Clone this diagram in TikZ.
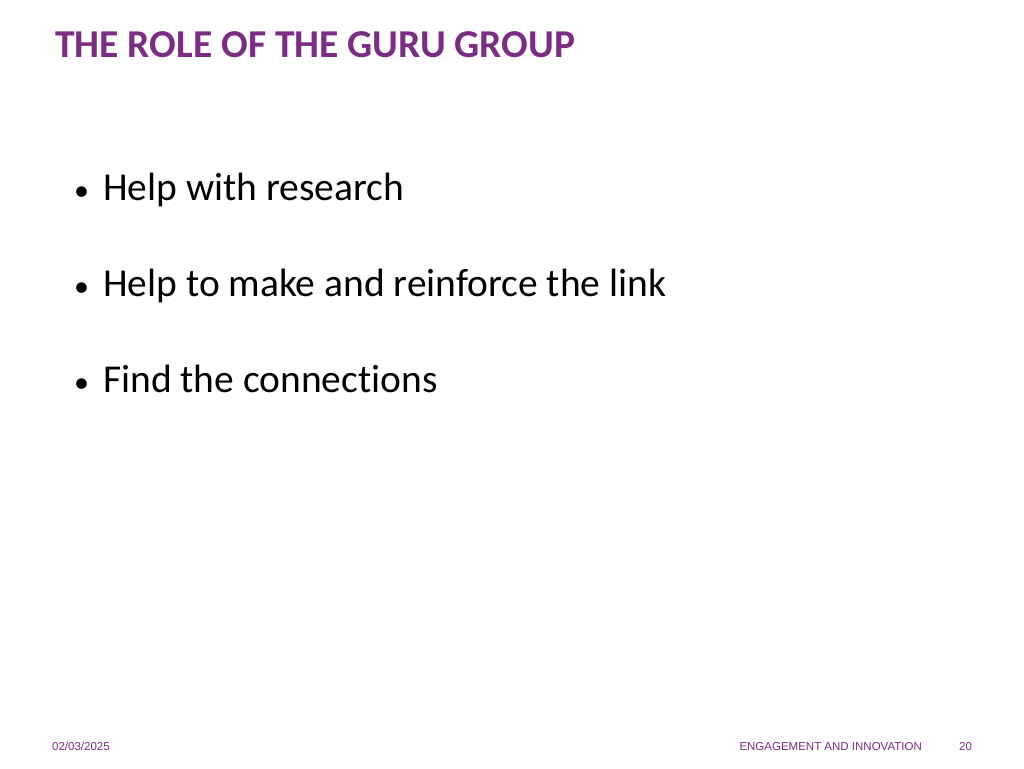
\documentclass[tikz,border=0pt]{standalone}
\usepackage{fontspec}
\setmainfont{Carlito}[Ligatures=NoCommon]
\newfontfamily\footfont{Liberation Sans}
\definecolor{guru}{HTML}{7B2C83}
\begin{document}
\begin{tikzpicture}[x=1pt,y=-1pt,
    titletext/.style={anchor=base west,inner sep=0pt,text=guru,font=\fontsize{39.5}{44}\selectfont\bfseries},
    bullettext/.style={anchor=base west,inner sep=0pt,font=\fontsize{39.5}{44}\selectfont},
    foottext/.style={anchor=base west,inner sep=0pt,text=guru,font=\footfont\fontsize{11.5}{13}\selectfont}
    ]

    \useasboundingbox (0,0) rectangle (1024,768);

    \node (title) [titletext] at (55,58) {THE ROLE OF THE GURU GROUP};

    \foreach \t [count=\i] in {Help with research,Help to make and reinforce the link,Find the connections}
      \node (item\i) [bullettext] at (74,200+96*\i-96) {{\fontsize{30}{30}\selectfont\textbullet}\hspace{14pt}\t};

    \node (date) [foottext] at (52,750) {02/03/2025};
    \node (dept) [foottext,anchor=base east] at (922,750) {ENGAGEMENT AND INNOVATION};
    \node (page) [foottext] at (959,750) {20};

  \end{tikzpicture}
\end{document}
